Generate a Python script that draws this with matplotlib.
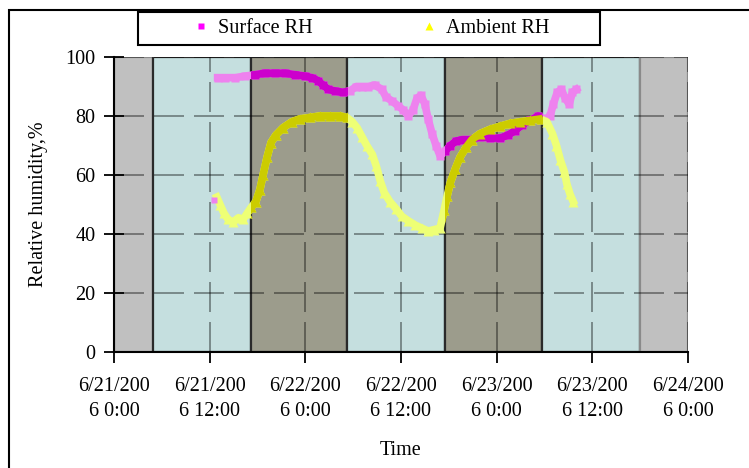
import numpy as np
import matplotlib
matplotlib.use("Agg")
import matplotlib.pyplot as plt
from matplotlib.lines import Line2D
from matplotlib.patches import Rectangle

plt.rcParams['font.family'] = ['Liberation Serif', 'DejaVu Serif']
plt.rcParams['font.size'] = 14.5

# hours since 6/21/2006 0:00
# one stray early surface reading, drawn on its own
surf0_t = [12.6]
surf0_rh = [51.5]

surf_t = [13.0, 13.9, 15.2, 16.4, 17.7, 18.9, 20.2, 21.5, 22.7, 24.0, 24.8,
          25.6, 26.2, 26.9, 27.7, 28.7, 29.6, 30.4, 31.1, 31.9, 32.7, 33.6, 34.1,
          34.9, 35.6, 36.3, 36.9, 37.5, 38.0, 38.5, 39.0, 39.4, 39.9, 40.4, 40.9,
          41.5, 42.2, 42.9, 43.7, 44.7, 45.9, 47.2, 48.4, 49.4, 50.3, 51.2, 52.2,
          53.2, 54.1, 54.7, 55.1, 55.6, 56.1, 56.6, 57.1, 57.5, 58.0]
surf_rh = [93, 93, 93, 93.5, 94, 94.5, 94.5, 94.5, 94, 93.5, 93,
           92, 90.5, 89, 88.5, 88, 88.5, 90, 90, 90, 90.5, 89, 86.5,
           85, 83.5, 82, 80, 82, 86, 87, 84, 79, 74, 70, 66.5,
           68, 70, 71.5, 72, 72, 73, 72.5, 72.5, 73.5, 75, 77, 78.5,
           80, 79, 80, 84, 88, 89, 86, 84, 88, 89]

amb_t = [12.9, 13.3, 13.8, 14.3, 14.9, 15.6, 16.2, 16.7, 17.2, 17.8, 18.3, 18.7,
         19.2, 19.7, 20.3, 21.2, 22.3, 23.3, 24.6, 25.8, 27.1, 28.4, 29.2, 29.9,
         30.5, 31.1, 31.7, 32.4, 32.9, 33.4, 33.9, 34.6, 35.4, 36.1, 36.9, 37.8,
         38.6, 39.4, 40.2, 40.9, 41.4, 41.8, 42.2, 42.8, 43.4, 44.2, 44.9, 45.9,
         47.2, 48.4, 49.7, 50.9, 52.2, 53.5, 54.3, 55.0, 55.5, 56.0, 56.5, 56.8,
         57.2, 57.6]
amb_rh = [52.5, 50, 47, 45, 44, 45.5, 45, 47, 49, 51, 55, 60,
          66, 71, 73.5, 76, 78, 79, 79.5, 80, 80, 80, 79.5, 78,
          76, 73, 70, 67, 63, 58, 54, 51, 48.5, 46, 44.5, 43,
          42, 41, 41.5, 42, 48, 53, 57.5, 62, 66, 69.5, 72, 74,
          75.5, 76.5, 77.5, 78, 78.5, 79, 78, 74, 70, 65, 61, 57,
          53.5, 51]

# day/night shading bands (hours)
band_edges = [0, 4.9, 17.15, 29.25, 41.5, 53.7, 66.0, 72]
band_kind = ['out', 'day', 'night', 'day', 'night', 'day', 'out']

tick_hours = [0, 12, 24, 36, 48, 60, 72]
tick_labels = ['6/21/200\n6 0:00', '6/21/200\n6 12:00', '6/22/200\n6 0:00',
               '6/22/200\n6 12:00', '6/23/200\n6 0:00', '6/23/200\n6 12:00',
               '6/24/200\n6 0:00']

W, H = 749, 468
fig = plt.figure(figsize=(W / 100, H / 100), dpi=100)
ax = fig.add_axes([114 / W, 1 - 352 / H, (688 - 114) / W, (352 - 57) / H])

face = {'out': '#c0c0c0', 'day': '#c5dfdf', 'night': '#9c9c8c'}
edge = {'out': '#8a8a8a', 'day': '#2a2a2a', 'night': '#2a2a2a'}
night_patches = []
for x0, x1, k in zip(band_edges[:-1], band_edges[1:], band_kind):
    p = ax.axvspan(x0, x1, 0, 1, facecolor=face[k], edgecolor=edge[k], lw=1.6, zorder=1)
    if k == 'night':
        night_patches.append(p)

s_kw = dict(lw=5.5, marker='s', ms=6, mec='none')
a_kw = dict(lw=5.5, marker='^', ms=7, mec='none')

# light colours in day bands, darker over night bands
ax.plot(surf_t, surf_rh, color='#ee82ee', zorder=3, **s_kw)
ax.plot(amb_t, amb_rh, color='#eeff75', zorder=3, **a_kw)
ax.plot(surf0_t, surf0_rh, ls='none', marker='s', ms=5, mec='none', color='#ee82ee', zorder=3.5)
for p in night_patches:
    l1, = ax.plot(surf_t, surf_rh, color='#cc00cc', zorder=4, **s_kw)
    l2, = ax.plot(amb_t, amb_rh, color='#cccc00', zorder=4, **a_kw)
    l1.set_clip_path(p)
    l2.set_clip_path(p)

ax.set_xlim(0, 72)
ax.set_ylim(0, 100)
ax.set_xticks(tick_hours)
ax.set_xticklabels(tick_labels, linespacing=1.45)
ax.set_yticks(np.arange(0, 101, 20))
ax.set_axisbelow('line')
ax.grid(True, color='black', alpha=0.45, lw=1.2, ls=(0, (18, 6)))

for s in ['top', 'right']:
    ax.spines[s].set_visible(False)
for s in ['left', 'bottom']:
    ax.spines[s].set_linewidth(1.5)
    ax.spines[s].set_zorder(5)
ax.tick_params(axis='x', direction='out', length=8, width=1.3, pad=10)
ax.tick_params(axis='y', direction='inout', length=14, width=1.3, pad=6.5)

ax.set_ylabel('Relative humidity,%')
ax.yaxis.set_label_coords(-(114 - 48) / 574, 0.5)
ax.set_xlabel('Time', va='top')
ax.xaxis.set_label_coords(0.5, -(441 - 352) / 295)

handles = [Line2D([], [], ls='none', marker='s', ms=5, color='#ff00ff', mec='none'),
           Line2D([], [], ls='none', marker='^', ms=6, color='#ffff00', mec='none')]
fig.legend(handles, ['Surface RH', 'Ambient RH'], loc='center',
           bbox_to_anchor=(371 / W, 1 - 28.5 / H), ncol=2, frameon=False,
           handlelength=0.8, handletextpad=0.45, columnspacing=5.4)
fig.patches.append(Rectangle((138 / W, 1 - 45 / H), (600 - 138) / W, 33 / H,
                             transform=fig.transFigure, fill=False, lw=1.5, ec='black'))
fig.patches.append(Rectangle((9 / W, -0.1), 1.2, 1.1 - 10 / H,
                             transform=fig.transFigure, fill=False, lw=1.5, ec='black'))

fig.savefig('out.png', dpi=100)
